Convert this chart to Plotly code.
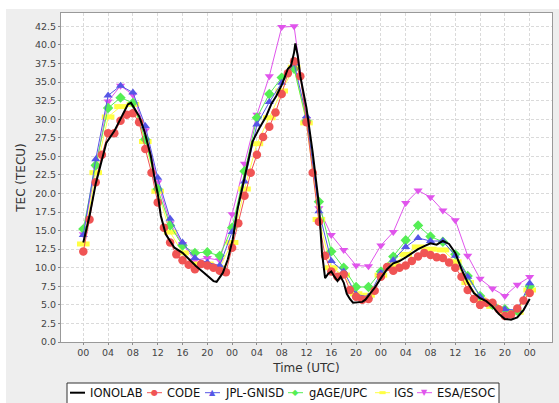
import plotly.graph_objects as go

# ---------------- data ----------------
tick_hours = list(range(0, 73, 4))
tick_labels = ["00", "04", "08", "12", "16", "20"] * 3 + ["00"]

hours_2h = list(range(0, 73, 2))
hours_1h = list(range(0, 73))

ionolab_t = [0, 1, 2, 2.6, 3.7, 5, 6.1, 7.2, 7.7, 9, 9.85, 10.9, 11.5, 12, 12.5, 13.3, 14.7, 16,
             17.1, 18.2, 19.5, 21, 21.5, 22.5, 23.3, 24.1, 24.9, 25.7, 26.5, 27.3, 28.4, 29.5,
             30.3, 31.1, 32, 32.5, 33, 33.5, 34, 34.2, 34.6, 35, 36, 37, 38, 38.5, 39, 39.5, 40,
             40.5, 41, 41.5, 42, 42.5, 43, 43.5, 44, 45, 45.5, 46, 47, 48, 49, 50, 51, 52, 53,
             54, 55, 56, 57, 58, 59, 60, 61, 62, 63, 64, 65, 66, 67, 68, 69, 70, 71, 72]
ionolab_tec = [13.4, 17.0, 21.3, 23.2, 26.8, 28.4, 30.2, 32.0, 32.2, 30.4, 28.4, 25.0, 22.0, 20.0,
               17.0, 14.5, 12.7, 12.0, 11.1, 10.2, 9.3, 8.2, 8.1, 9.3, 11.1, 13.8, 18.0, 21.0,
               23.7, 27.0, 28.8, 30.4, 32.0, 33.1, 34.6, 35.8, 36.8, 37.2, 39.0, 40.2, 38.5,
               35.8, 31.5, 25.5, 18.5, 12.0, 8.6, 9.2, 9.5, 8.8, 8.2, 8.8, 8.0, 6.5, 5.8, 5.3,
               5.3, 5.4, 5.7, 6.2, 7.3, 8.6, 9.8, 10.6, 10.9, 11.4, 12.0, 12.5, 12.9, 13.3, 13.1,
               13.6, 13.2, 12.0, 9.8, 8.0, 6.6, 5.9, 5.5, 4.8, 3.8, 3.1, 3.0, 3.3, 4.3, 5.8]

code_tec = [12.2, 16.5, 21.5, 25.2, 28.1, 28.1, 29.8, 30.6, 30.8, 29.6, 26.0, 22.8, 18.8, 15.4,
            13.4, 11.8, 11.0, 10.4, 9.8, 10.5, 10.3, 10.0, 9.6, 9.4, 12.7, 16.0, 19.7, 22.8,
            25.2, 27.6, 29.0, 30.9, 33.4, 36.2, 37.8, 35.8, 29.6, 22.8, 16.2, 11.6, 9.5, 8.8,
            9.1, 7.0, 6.1, 5.7, 5.8, 6.9, 8.8, 10.1, 9.6, 10.0, 10.3, 10.9, 11.5, 12.0, 11.7,
            11.4, 11.3, 10.7, 10.0, 8.8, 7.0, 5.8, 5.0, 5.3, 5.3, 4.4, 3.5, 3.7, 4.5, 5.6, 6.6]

jpl_tec = [14.4, 24.6, 33.2, 34.5, 33.6, 29.1, 22.1, 16.6, 13.4, 11.3, 10.7, 10.3, 14.8, 21.6,
           29.3, 32.3, 34.9, 37.5, 30.4, 17.6, 10.9, 9.5, 6.4, 6.1, 9.3, 11.0, 12.8, 14.0, 13.6,
           13.6, 11.6, 8.8, 6.1, 5.3, 4.4, 4.3, 7.9]

gage_tec = [15.2, 23.8, 31.5, 32.9, 32.2, 27.3, 20.6, 15.7, 13.0, 12.0, 12.1, 11.6, 15.4, 23.0,
            30.2, 33.4, 35.6, 36.8, 29.8, 18.9, 12.2, 10.0, 7.4, 7.4, 9.5, 11.5, 13.7, 15.7, 14.2,
            13.5, 11.8, 8.9, 6.2, 5.0, 4.4, 4.2, 7.5]

igs_tec = [13.2, 22.8, 30.3, 31.7, 32.0, 27.0, 20.3, 14.8, 12.0, 10.5, 10.5, 10.0, 13.4, 20.6,
           26.7, 30.2, 33.8, 37.0, 29.5, 16.5, 10.0, 9.0, 6.5, 6.3, 9.0, 10.4, 11.8, 12.8, 12.5,
           12.4, 10.8, 8.0, 5.7, 4.8, 4.0, 4.0, 7.0]

esa_tec = [14.5, 23.5, 32.4, 34.5, 33.3, 28.5, 21.5, 16.0, 13.2, 11.0, 11.3, 11.0, 17.2, 24.0,
           30.6, 35.8, 42.4, 42.5, 30.0, 18.0, 14.4, 12.4, 10.3, 10.2, 13.0, 14.8, 18.7, 20.4,
           19.5, 17.7, 16.4, 11.6, 8.5, 7.2, 6.2, 7.7, 8.75]

series_names = ["IONOLAB", "CODE", "JPL-GNISD", "gAGE/UPC", "IGS", "ESA/ESOC"]
series_colors = ["#000000", "#F05454", "#5656E6", "#55EE55", "#FFFF44", "#E055EC"]

# ---------------- figure ----------------
W, H = 559, 403
PL, PR, PT, PB = 61, 552, 13, 342  # plot area in px


def px_x(px):
    return (px - PL) / (PR - PL)


def px_y(py):
    return (PB - py) / (PB - PT)


fig = go.Figure()

# drawn bottom-first so IONOLAB ends on top
fig.add_trace(go.Scatter(x=hours_2h, y=esa_tec, mode="lines+markers", name=series_names[5],
                         line=dict(color=series_colors[5], width=1),
                         marker=dict(symbol="triangle-down", size=8, color=series_colors[5])))
fig.add_trace(go.Scatter(x=hours_2h, y=igs_tec, mode="lines+markers", name=series_names[4],
                         line=dict(color=series_colors[4], width=1),
                         marker=dict(symbol="line-ew", size=9,
                                     line=dict(color=series_colors[4], width=5))))
fig.add_trace(go.Scatter(x=hours_2h, y=gage_tec, mode="lines+markers", name=series_names[3],
                         line=dict(color=series_colors[3], width=1),
                         marker=dict(symbol="diamond", size=8, color=series_colors[3])))
fig.add_trace(go.Scatter(x=hours_2h, y=jpl_tec, mode="lines+markers", name=series_names[2],
                         line=dict(color=series_colors[2], width=1),
                         marker=dict(symbol="triangle-up", size=8, color=series_colors[2])))
fig.add_trace(go.Scatter(x=hours_1h, y=code_tec, mode="lines+markers", name=series_names[1],
                         line=dict(color=series_colors[1], width=1),
                         marker=dict(symbol="circle", size=8.5, color=series_colors[1])))
fig.add_trace(go.Scatter(x=ionolab_t, y=ionolab_tec, mode="lines", name=series_names[0],
                         line=dict(color=series_colors[0], width=2)))

FONT = "DejaVu Sans"
shapes = []
annotations = []

# white outer strips (top / left) around the grey chart panel
shapes.append(dict(type="rect", xref="paper", yref="paper", layer="below",
                   x0=px_x(0), x1=px_x(W), y0=px_y(0), y1=px_y(9),
                   fillcolor="white", line=dict(width=0)))
shapes.append(dict(type="rect", xref="paper", yref="paper", layer="below",
                   x0=px_x(0), x1=px_x(6), y0=px_y(0), y1=px_y(H),
                   fillcolor="white", line=dict(width=0)))

# legend box
shapes.append(dict(type="rect", xref="paper", yref="paper", layer="above",
                   x0=px_x(67), x1=px_x(499), y0=px_y(383), y1=px_y(406),
                   fillcolor="white", line=dict(color="#333333", width=1)))

legend_row = 392.7
sym_left = [70, 147, 205, 288, 375, 417]
text_left = [88, 165, 223, 307, 392, 435]
glyphs = ["", "\u25CF", "\u25B2", "\u25C6", "\u25AC", "\u25BC"]
for i, name in enumerate(series_names):
    x0 = sym_left[i]
    lw = 2 if i == 0 else 1
    shapes.append(dict(type="line", xref="paper", yref="paper", layer="above",
                       x0=px_x(x0), x1=px_x(x0 + 15), y0=px_y(legend_row), y1=px_y(legend_row),
                       line=dict(color=series_colors[i], width=lw)))
    if glyphs[i]:
        annotations.append(dict(xref="paper", yref="paper", x=px_x(x0 + 7.5), y=px_y(legend_row),
                                text=glyphs[i], showarrow=False, xanchor="center", yanchor="middle",
                                font=dict(family=FONT, size=8, color=series_colors[i])))
    annotations.append(dict(xref="paper", yref="paper", x=px_x(text_left[i]), y=px_y(legend_row),
                            text=name, showarrow=False, xanchor="left", yanchor="middle",
                            font=dict(family=FONT, size=11.5, color="#111111")))

fig.update_layout(
    width=W, height=H,
    margin=dict(l=PL, r=W - PR, t=PT, b=H - PB),
    paper_bgcolor="#EEEEEE",
    plot_bgcolor="white",
    showlegend=False,
    shapes=shapes,
    annotations=annotations,
    font=dict(family=FONT, color="#333333"),
)

fig.update_xaxes(
    range=[-3.6, 75.6],
    tickvals=tick_hours, ticktext=tick_labels,
    tickfont=dict(size=9.5, color="#444444"),
    ticks="outside", ticklen=2, tickcolor="#888888",
    showgrid=True, gridcolor="#DADADA", griddash="3px,2px", gridwidth=1,
    showline=True, linecolor="#999999", linewidth=1, mirror=True,
    zeroline=False,
    title=dict(text="Time (UTC)", font=dict(size=12, color="#333333"), standoff=6),
)
fig.update_yaxes(
    range=[0, 44.3],
    tickmode="linear", tick0=0, dtick=2.5, tickformat=".1f",
    tickfont=dict(size=9.5, color="#444444"),
    ticks="outside", ticklen=2, tickcolor="#888888",
    showgrid=True, gridcolor="#DADADA", griddash="3px,2px", gridwidth=1,
    showline=True, linecolor="#999999", linewidth=1, mirror=True,
    zeroline=False,
    title=dict(text="TEC (TECU)", font=dict(size=12, color="#333333"), standoff=6),
)

fig.write_html("out.html")
